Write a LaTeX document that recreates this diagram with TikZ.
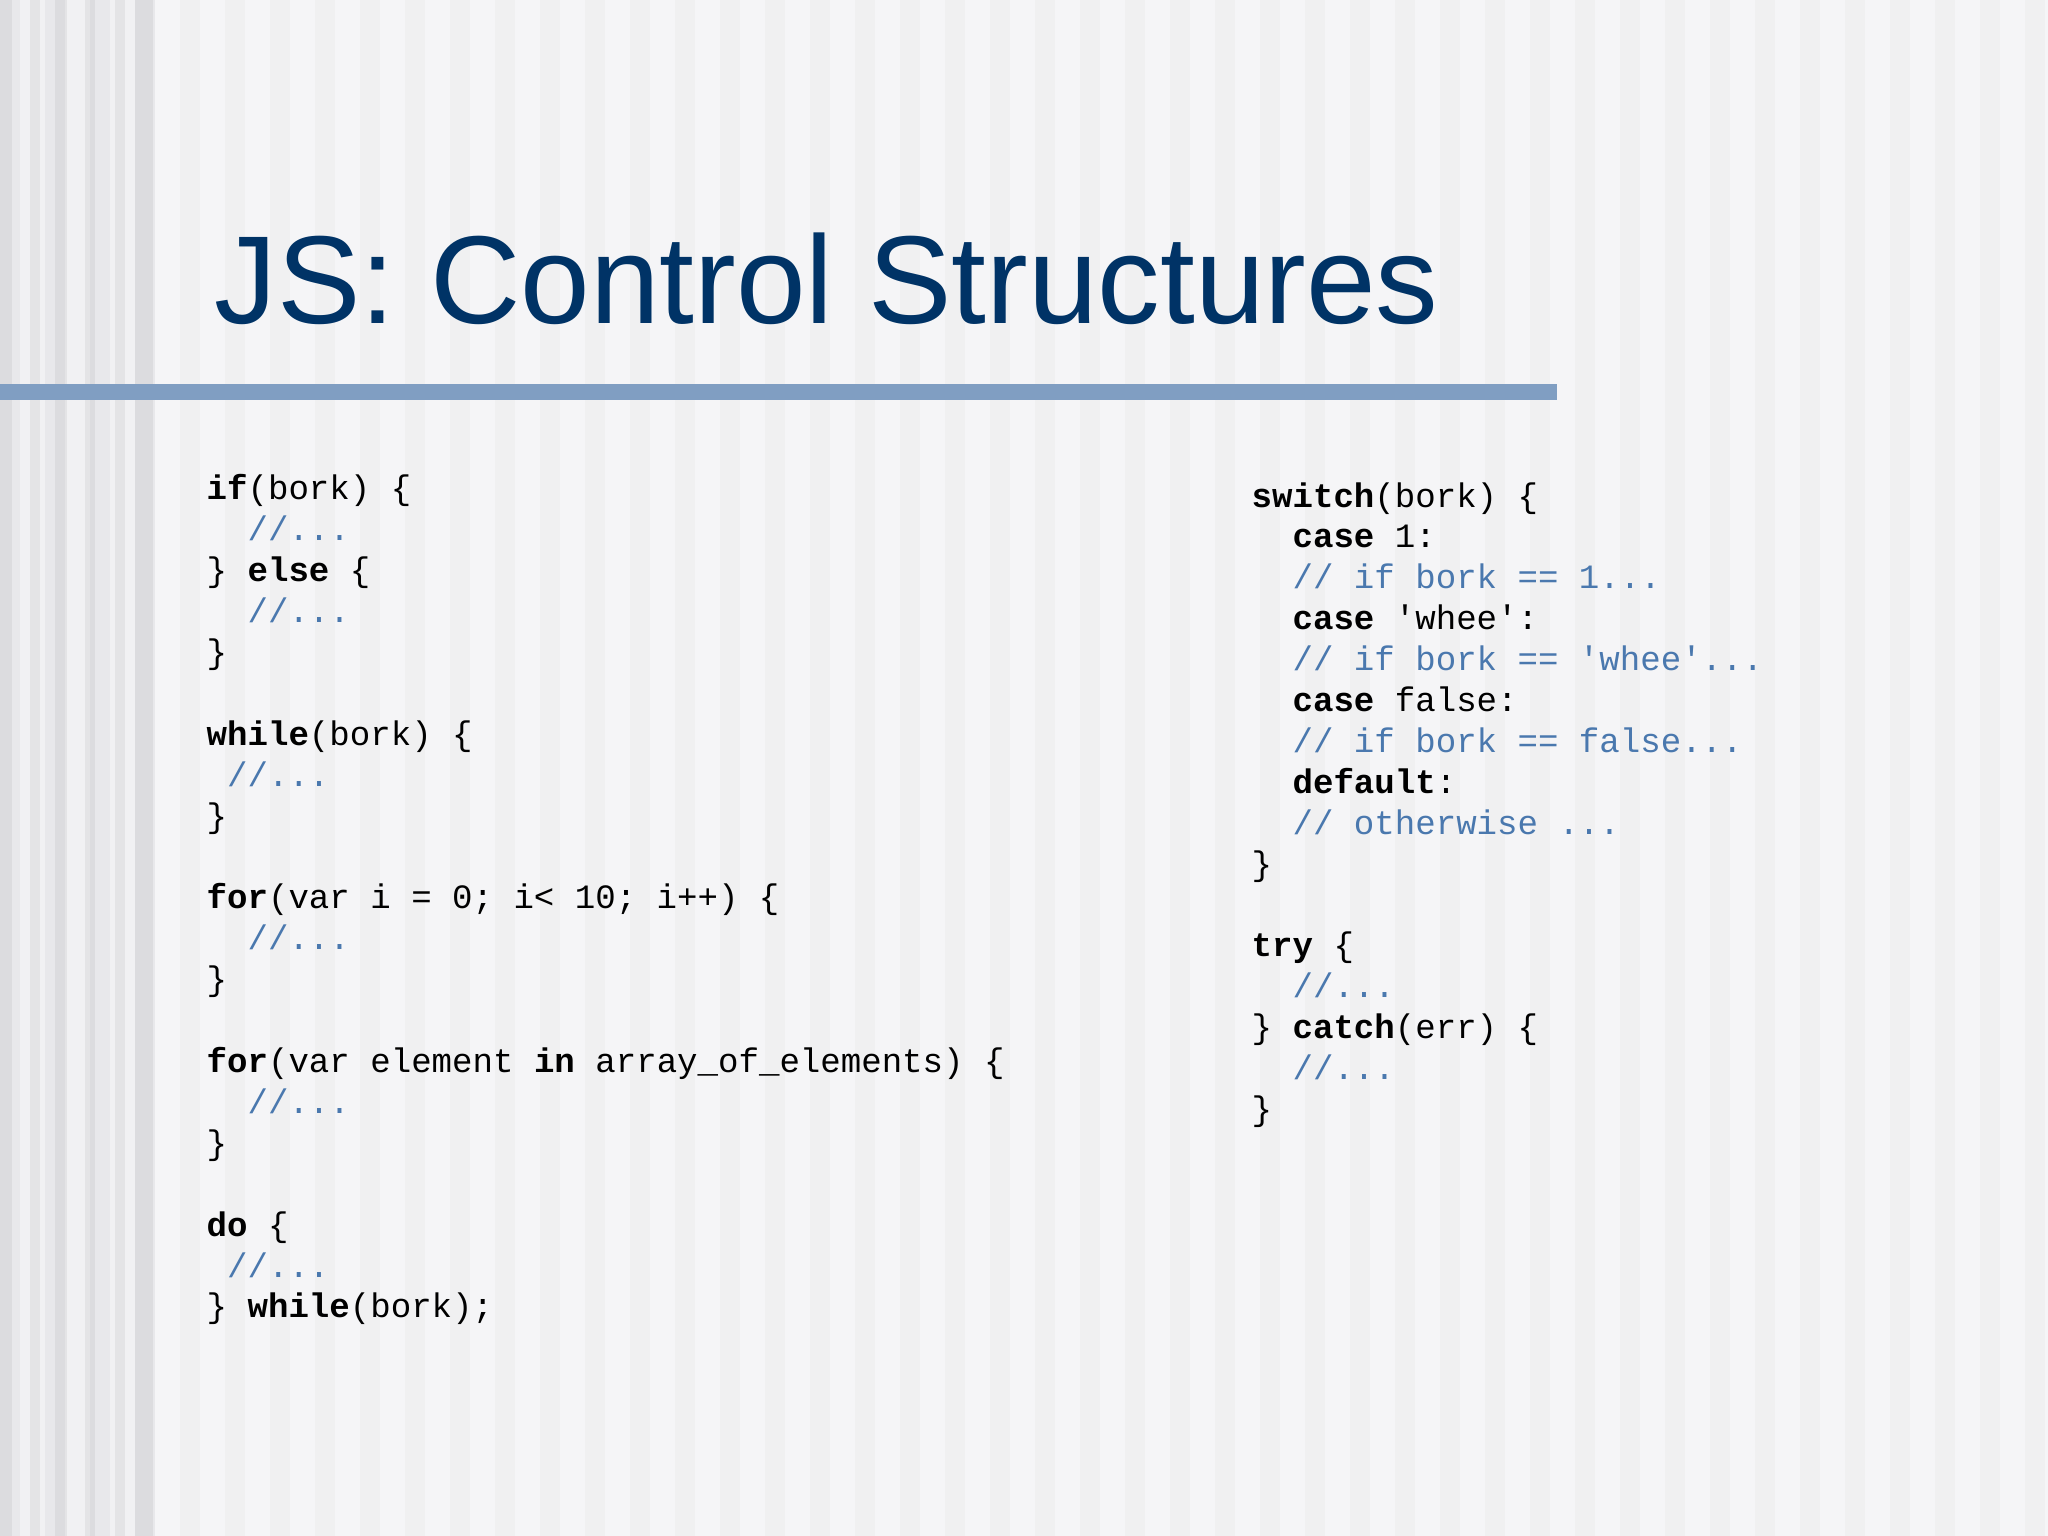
\documentclass[tikz,border=0pt]{standalone}
\usepackage{fontspec}
\setmainfont{Liberation Sans}
\setmonofont{Liberation Mono}
\definecolor{titleblue}{HTML}{003366}
\definecolor{barblue}{HTML}{809EC2}
\definecolor{cmt}{HTML}{4A78AE}
\definecolor{bg}{HTML}{F1F1F3}
\definecolor{stripe}{HTML}{E8E8EB}
\newcommand{\kw}[1]{\textbf{#1}}
\newcommand{\cm}[1]{\textcolor{cmt}{#1}}
\begin{document}
\begin{tikzpicture}[x=1cm,y=-1cm,
  code/.style={anchor=base west,inner sep=0pt,font=\ttfamily\fontsize{9.7pt}{11pt}\selectfont}]
\useasboundingbox (0,0) rectangle (20.48,15.36);
\fill[bg] (0,0) rectangle (20.48,15.36);
% stripes
\foreach \i in {0,...,45} {
  \fill[stripe] ({\i*0.45},0) rectangle ({\i*0.45+0.2},15.36);
}
\fill[white,opacity=0.35] (1.55,0) rectangle (20.48,15.36);
\foreach \x/\w in {0/0.12,0.3/0.1,0.55/0.12,0.85/0.1,1.15/0.1,1.35/0.18} {
  \fill[black,opacity=0.05] (\x,0) rectangle ({\x+\w},15.36);
}
% title
\node[anchor=base west,inner sep=0pt,text=titleblue,font=\fontsize{35.6pt}{36pt}\selectfont] (title) at (2.14,3.24) {JS: Control Structures};
\fill[barblue] (0,3.84) rectangle (15.57,4.00);
% left column
\def\ls{0.409}
\foreach \n/\t in {
 0/{\kw{if}(bork)~\{},
 1/{~~\cm{//...}},
 2/{\}~\kw{else}~\{},
 3/{~~\cm{//...}},
 4/{\}},
 6/{\kw{while}(bork)~\{},
 7/{~\cm{//...}},
 8/{\}},
 10/{\kw{for}(var~i~=~0;~i<~10;~i++)~\{},
 11/{~~\cm{//...}},
 12/{\}},
 14/{\kw{for}(var~element~\kw{in}~array\_of\_elements)~\{},
 15/{~~\cm{//...}},
 16/{\}},
 18/{\kw{do}~\{},
 19/{~\cm{//...}},
 20/{\}~\kw{while}(bork);}} {
  \node[code] (l\n) at (2.06,{5.0+\n*\ls}) {\t};
}
% right column
\foreach \n/\t in {
 0/{\kw{switch}(bork)~\{},
 1/{~~\kw{case}~1:},
 2/{~~\cm{//~if~bork~==~1...}},
 3/{~~\kw{case}~\char39 whee\char39:},
 4/{~~\cm{//~if~bork~==~\char39 whee\char39...}},
 5/{~~\kw{case}~false:},
 6/{~~\cm{//~if~bork~==~false...}},
 7/{~~\kw{default}:},
 8/{~~\cm{//~otherwise~...}},
 9/{\}},
 11/{\kw{try}~\{},
 12/{~~\cm{//...}},
 13/{\}~\kw{catch}(err)~\{},
 14/{~~\cm{//...}},
 15/{\}}} {
  \node[code] (r\n) at (12.51,{5.07+\n*\ls}) {\t};
}
\end{tikzpicture}
\end{document}
